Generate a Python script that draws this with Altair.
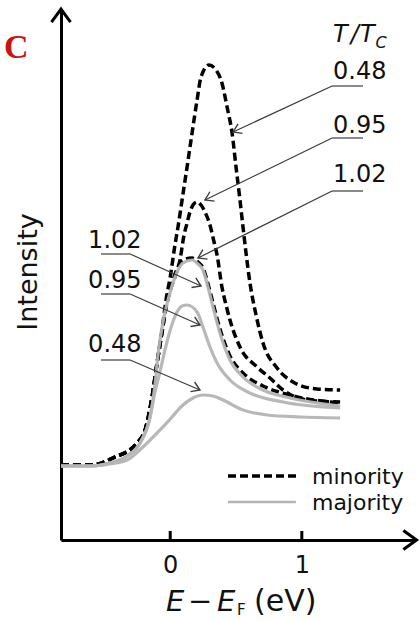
import math
import altair as alt
import pandas as pd

# ---------------- data (E - E_F in eV, intensity in arb. units) ----------------
minority_048 = [(-0.83, 0.75), (-0.60, 0.75), (-0.435, 0.82), (-0.252, 0.97), (-0.191, 1.10),
                (-0.138, 1.43), (-0.100, 1.77), (-0.062, 2.10), (-0.032, 2.40), (0.0, 2.63),
                (0.036, 2.95), (0.059, 3.13), (0.090, 3.40), (0.128, 3.73), (0.166, 4.07),
                (0.204, 4.40), (0.234, 4.63), (0.295, 4.75), (0.348, 4.70), (0.393, 4.57),
                (0.432, 4.33), (0.470, 4.07), (0.500, 3.73), (0.530, 3.40), (0.553, 3.13),
                (0.576, 2.87), (0.606, 2.57), (0.652, 2.25), (0.705, 1.97), (0.812, 1.72),
                (0.933, 1.58), (1.116, 1.51), (1.291, 1.50)]
minority_095 = [(-0.83, 0.75), (-0.60, 0.75), (-0.435, 0.82), (-0.252, 0.97), (-0.191, 1.10),
                (-0.138, 1.43), (-0.100, 1.77), (-0.062, 2.08), (-0.032, 2.32), (0.0, 2.50),
                (0.036, 2.63), (0.074, 2.80), (0.105, 3.05), (0.128, 3.17), (0.150, 3.28),
                (0.173, 3.35), (0.204, 3.38), (0.234, 3.35), (0.264, 3.28), (0.302, 3.15),
                (0.333, 2.98), (0.356, 2.85), (0.393, 2.53), (0.424, 2.35), (0.454, 2.20),
                (0.530, 1.93), (0.660, 1.73), (0.758, 1.62), (0.857, 1.50), (1.040, 1.40),
                (1.291, 1.38)]
minority_102 = [(-0.83, 0.75), (-0.60, 0.75), (-0.435, 0.82), (-0.252, 0.97), (-0.191, 1.10),
                (-0.138, 1.43), (-0.100, 1.77), (-0.062, 2.08), (-0.032, 2.33), (0.0, 2.50),
                (0.052, 2.71), (0.097, 2.80), (0.166, 2.82), (0.211, 2.78), (0.249, 2.72),
                (0.287, 2.56), (0.325, 2.37), (0.378, 2.11), (0.454, 1.84), (0.553, 1.67),
                (0.705, 1.54), (0.910, 1.45), (1.291, 1.37)]
majority_048 = [(-0.83, 0.74), (-0.60, 0.74), (-0.46, 0.76), (-0.328, 0.80), (-0.207, 0.93),
                (-0.078, 1.10), (0.0, 1.21), (0.097, 1.35), (0.173, 1.42), (0.249, 1.45),
                (0.325, 1.44), (0.401, 1.40), (0.553, 1.30), (0.736, 1.25), (0.986, 1.23),
                (1.291, 1.22)]
majority_095 = [(-0.83, 0.74), (-0.60, 0.74), (-0.46, 0.77), (-0.328, 0.84), (-0.229, 0.97),
                (-0.153, 1.23), (-0.116, 1.48), (-0.078, 1.68), (-0.040, 1.90), (0.0, 2.10),
                (0.052, 2.28), (0.090, 2.34), (0.128, 2.35), (0.204, 2.28), (0.249, 2.13),
                (0.302, 1.93), (0.356, 1.77), (0.454, 1.60), (0.606, 1.47), (0.857, 1.38),
                (1.291, 1.32)]
majority_102 = [(-0.83, 0.74), (-0.60, 0.74), (-0.46, 0.77), (-0.328, 0.84), (-0.229, 0.97),
                (-0.153, 1.23), (-0.116, 1.55), (-0.093, 1.85), (-0.055, 2.18), (0.0, 2.48),
                (0.052, 2.68), (0.097, 2.77), (0.166, 2.80), (0.211, 2.76), (0.249, 2.70),
                (0.287, 2.53), (0.325, 2.33), (0.378, 2.07), (0.454, 1.80), (0.553, 1.63),
                (0.705, 1.50), (0.910, 1.42), (1.291, 1.34)]

x_ticks = [0, 1]
temps = ["0.48", "0.95", "1.02"]
# right-hand labels (minority): text anchor, underline, arrow tip
right_text = [(1.237, 4.68), (1.237, 4.14), (1.237, 3.65)]
right_line = [(1.230, 1.465, 4.54), (1.230, 1.465, 4.02), (1.230, 1.465, 3.49)]
right_tip = [(0.477, 4.08), (0.264, 3.40), (0.211, 2.82)]
# left-hand labels (majority), order 1.02, 0.95, 0.48
left_names = ["1.02", "0.95", "0.48"]
left_text = [(-0.624, 2.99), (-0.624, 2.59), (-0.624, 1.95)]
left_line = [(-0.526, -0.305, 2.86), (-0.526, -0.305, 2.46), (-0.526, -0.305, 1.80)]
left_tip = [(0.234, 2.54), (0.226, 2.15), (0.226, 1.50)]

legend_names = ["minority", "majority"]
header_parts = ["T", "/", "T", "C"]

# ---------------- layout ----------------
E_MIN, E_MAX = -0.83, 1.86
I_MIN, I_MAX = 0.0, 5.3
W, H = 354, 530
PX_E = W / (E_MAX - E_MIN)
PX_I = H / (I_MAX - I_MIN)
FONT = "DejaVu Sans"
GREY = "#b4b4b4"
LEAD = "#3c3c3c"
TXT = "#111"

xs = alt.Scale(domain=[E_MIN, E_MAX], nice=False, zero=False)
ys = alt.Scale(domain=[I_MIN, I_MAX], nice=False, zero=False)
xaxis = alt.Axis(values=x_ticks, format="d", ticks=False, domain=True, domainColor="black",
                 domainWidth=3, labelFontSize=24, labelFont=FONT, labelColor=TXT,
                 labelPadding=13, title=None, grid=False)
yaxis = alt.Axis(labels=False, ticks=False, domain=True, domainColor="black", domainWidth=3,
                 title=None, grid=False)


def X(f="E"):
    return alt.X(f"{f}:Q", scale=xs, axis=xaxis)


def Y(f="I"):
    return alt.Y(f"{f}:Q", scale=ys, axis=yaxis)


def curve_df(series):
    rows = []
    for name, pts in series.items():
        for e, i in pts:
            rows.append({"E": e, "I": i, "s": name})
    return pd.DataFrame(rows)


dash_df = curve_df({"m048": minority_048, "m095": minority_095, "m102": minority_102})
grey_df = curve_df({"j048": majority_048, "j095": majority_095, "j102": majority_102})

dashed = alt.Chart(dash_df).mark_line(color="black", strokeWidth=3.5, strokeDash=[8, 4],
                                      interpolate="monotone").encode(x=X(), y=Y(), detail="s:N")
grey = alt.Chart(grey_df).mark_line(color=GREY, strokeWidth=3.2, interpolate="monotone",
                                    opacity=0.95).encode(x=X(), y=Y(), detail="s:N")

# axis ticks
tick_df = pd.DataFrame({"E": x_ticks, "I": [0.0] * 2, "I2": [0.09] * 2})
ticks = alt.Chart(tick_df).mark_rule(color="black", strokeWidth=3).encode(
    x=X(), y=Y(), y2="I2:Q")

# axis arrow heads
axarrow_df = pd.DataFrame({"E": [E_MAX + 0.012, E_MIN], "I": [0.0, I_MAX + 0.01], "ang": [0, 270]})
axarrows = alt.Chart(axarrow_df).mark_point(
    shape="M-1,-0.72L0,0L-1,0.72", filled=False, color="black", strokeWidth=3, size=700,
    opacity=1, strokeJoin="miter").encode(x=X(), y=Y(), angle=alt.Angle("ang:Q", scale=None))

# leaders
seg_rows, tip_rows, lab_rows = [], [], []
for name, (tx, ty), (u1, u2, uy), (px, py) in zip(temps, right_text, right_line, right_tip):
    seg_rows.append({"E": u1, "I": uy, "E2": u2, "I2": uy})
    seg_rows.append({"E": u1, "I": uy, "E2": px, "I2": py})
    ang = math.degrees(math.atan2(-(py - uy) * PX_I, (px - u1) * PX_E)) % 360
    tip_rows.append({"E": px, "I": py, "ang": ang})
    lab_rows.append({"E": tx, "I": ty, "t": name})
for name, (tx, ty), (u1, u2, uy), (px, py) in zip(left_names, left_text, left_line, left_tip):
    seg_rows.append({"E": u1, "I": uy, "E2": u2, "I2": uy})
    seg_rows.append({"E": u2, "I": uy, "E2": px, "I2": py})
    ang = math.degrees(math.atan2(-(py - uy) * PX_I, (px - u2) * PX_E)) % 360
    tip_rows.append({"E": px, "I": py, "ang": ang})
    lab_rows.append({"E": tx, "I": ty, "t": name})

segs = alt.Chart(pd.DataFrame(seg_rows)).mark_rule(color=LEAD, strokeWidth=1.2).encode(
    x=X(), y=Y(), x2="E2:Q", y2="I2:Q")
tips = alt.Chart(pd.DataFrame(tip_rows)).mark_point(
    shape="M-1,-0.65L0,0L-1,0.65", filled=False, color=LEAD, strokeWidth=1.4, size=260,
    opacity=1).encode(x=X(), y=Y(), angle=alt.Angle("ang:Q", scale=None))
labels = alt.Chart(pd.DataFrame(lab_rows)).mark_text(
    align="left", baseline="middle", font=FONT, fontSize=24, color=TXT).encode(
    x=X(), y=Y(), text="t:N")

# legend
leg_line_df = pd.DataFrame({"E": [0.439], "E2": [0.986], "I": [0.64]})
leg_dash = alt.Chart(leg_line_df).mark_rule(color="black", strokeWidth=3.5, strokeDash=[8, 4]).encode(
    x=X(), x2="E2:Q", y=Y())
leg_grey_df = pd.DataFrame({"E": [0.439], "E2": [0.955], "I": [0.38]})
leg_grey = alt.Chart(leg_grey_df).mark_rule(color=GREY, strokeWidth=2.5).encode(
    x=X(), x2="E2:Q", y=Y())
leg_text_df = pd.DataFrame({"E": [1.077, 1.077], "I": [0.635, 0.37], "t": legend_names})
leg_text = alt.Chart(leg_text_df).mark_text(
    align="left", baseline="middle", font=FONT, fontSize=22, color=TXT).encode(
    x=X(), y=Y(), text="t:N")

# header T / T_C
hdr_df = pd.DataFrame({"E": [1.237, 1.372, 1.442, 1.560], "I": [5.05, 5.05, 5.05, 4.97],
                       "t": header_parts, "fs": [24, 24, 24, 16]})
hdr = alt.Chart(hdr_df).mark_text(align="left", baseline="middle", font=FONT,
                                  fontStyle="italic", color=TXT).encode(
    x=X(), y=Y(), text="t:N", size=alt.Size("fs:Q", scale=None, legend=None))


# titles (pixel positions relative to plot origin)
def ptext(txt, x, y, **kw):
    return alt.Chart(pd.DataFrame({"t": [txt]})).mark_text(**kw).encode(
        x=alt.value(x), y=alt.value(y), text="t:N")


ytitle = ptext("Intensity", -32, 262, angle=270, align="center", baseline="middle",
               font=FONT, fontSize=27, color=TXT)
xt1 = ptext("E", 105, 601, align="left", baseline="alphabetic", font=FONT, fontSize=29,
            fontStyle="italic", color=TXT)
xt1b = ptext("−", 127, 601, align="left", baseline="alphabetic", font=FONT, fontSize=29,
             color=TXT)
xt1c = ptext("E", 156, 601, align="left", baseline="alphabetic", font=FONT, fontSize=29,
             fontStyle="italic", color=TXT)
xt2 = ptext("F", 176, 605, align="left", baseline="alphabetic", font=FONT, fontSize=15, color=TXT)
xt3 = ptext("(eV)", 193, 601, align="left", baseline="alphabetic", font=FONT, fontSize=30, color=TXT)
panel = ptext("C", -57, 48, align="left", baseline="alphabetic", font="Liberation Serif",
              fontSize=34, fontWeight="bold", color="#cc1111")

chart = alt.layer(
    dashed, grey, ticks, axarrows, segs, tips, labels, leg_dash, leg_grey, leg_text,
    hdr, ytitle, xt1, xt1b, xt1c, xt2, xt3, panel
).properties(
    width=W, height=H,
    padding={"left": 61, "top": 10, "right": 5, "bottom": 81},
    autosize=alt.AutoSizeParams(type="none"),
    background="white",
).configure_view(stroke=None)

chart.save("out.html", embed_options={"renderer": "svg", "actions": False})
